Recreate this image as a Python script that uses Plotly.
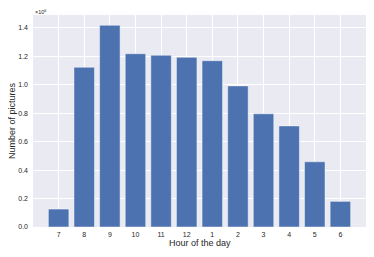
import plotly.graph_objects as go

hours = ["7", "8", "9", "10", "11", "12", "1", "2", "3", "4", "5", "6"]
pictures = [126000, 1122000, 1417000, 1217000, 1206000, 1192000,
            1168000, 991000, 795000, 710000, 458000, 180000]

scale = 1e6
x_idx = list(range(len(hours)))
y_scaled = [v / scale for v in pictures]

fig = go.Figure(go.Bar(
    x=x_idx, y=y_scaled, width=0.8,
    marker=dict(color="#4C72B0", line=dict(color="rgba(255,255,255,0.45)", width=1)),
))

# page body has an 8px default margin: size the figure to fit inside the window
font_family = "Liberation Sans, Arial, sans-serif"
fig.update_layout(
    width=358, height=241,
    margin=dict(l=25, r=0, t=7, b=22),
    paper_bgcolor="white", plot_bgcolor="#EAEAF2",
    showlegend=False,
    font=dict(family=font_family, color="#262626"),
    xaxis=dict(
        range=[-1, len(hours)], tickmode="array", tickvals=x_idx, ticktext=hours,
        showgrid=True, gridcolor="white", gridwidth=1, zeroline=False,
        tickfont=dict(size=7, color="#262626"), ticks="", ticklabelstandoff=2,
        automargin=False,
    ),
    yaxis=dict(
        range=[0, 1.489], tickmode="array", tickvals=[0, 0.2, 0.4, 0.6, 0.8, 1.0, 1.2, 1.4],
        tickformat=".1f", showgrid=True, gridcolor="white", gridwidth=1, zeroline=False,
        tickfont=dict(size=7, color="#262626"), ticks="", ticklabelstandoff=4,
        automargin=False,
    ),
    annotations=[
        dict(text="×10<sup>6</sup>", xref="paper", yref="paper", x=0, y=1.0,
             xanchor="left", yanchor="bottom", showarrow=False,
             font=dict(size=5.5, color="#262626"), yshift=-2),
        dict(text="Hour of the day", xref="paper", yref="paper", x=0.5, y=0,
             xanchor="center", yanchor="middle", showarrow=False,
             font=dict(size=9, color="#262626"), yshift=-16),
        dict(text="Number of pictures", xref="paper", yref="paper", x=0, y=0.5,
             xanchor="center", yanchor="middle", showarrow=False, textangle=-90,
             font=dict(size=9, color="#262626"), xshift=-21),
    ],
)

fig.write_html("out.html")
